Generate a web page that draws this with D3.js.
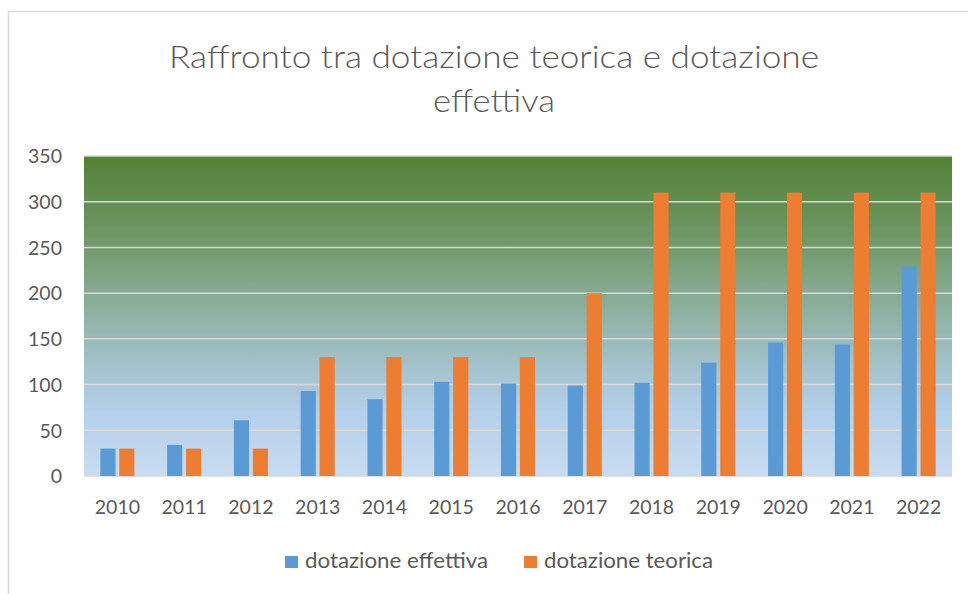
<!DOCTYPE html>
<html><head><meta charset="utf-8">
<script src="https://cdn.jsdelivr.net/npm/d3@7"></script>
<style>body{margin:0;background:#fff;} svg{display:block;}</style>
</head><body>
<svg id="c" width="968" height="594"></svg>
<script>
const years = ["2010","2011","2012","2013","2014","2015","2016","2017","2018","2019","2020","2021","2022"];
const effettiva = [30,34,61,93,84,103,101,99,102,124,146,144,229];
const teorica = [30,30,30,130,130,130,130,200,310,310,310,310,310];
const seriesNames = ["dotazione effettiva","dotazione teorica"];
const seriesColors = ["#5b9bd5","#ed7d31"];
const yTicks = [0,50,100,150,200,250,300,350];
const titleLines = ["Raffronto tra dotazione teorica e dotazione","effettiva"];

const svg = d3.select("#c");
const font = "Lato, 'Open Sans', sans-serif";
const textColor = "#595959";

// outer chart border
svg.append("rect").attr("x",8.5).attr("y",11.5).attr("width",1000).attr("height",700)
  .attr("fill","#fff").attr("stroke","#d9d9d9").attr("stroke-width",1.5);

const m = {left:84, right:952, top:156, bottom:476};
const x0 = d3.scaleBand().domain(years).range([m.left,m.right]).paddingInner(0.49).paddingOuter(0.245);
const x1 = d3.scaleBand().domain(seriesNames).range([0,x0.bandwidth()]).paddingInner(0.2);
const y = d3.scaleLinear().domain([0,350]).range([m.bottom,m.top]);

const defs = svg.append("defs");
const g = defs.append("linearGradient").attr("id","bg").attr("x1",0).attr("y1",0).attr("x2",0).attr("y2",1);
[[0,"#538135"],[0.28,"#729a6c"],[0.5,"#90b2a4"],[0.68,"#a6c5d2"],[0.8,"#b4d0ea"],[1,"#c8dcf0"]]
  .forEach(([o,c])=>g.append("stop").attr("offset",o).attr("stop-color",c));
svg.append("rect").attr("x",m.left).attr("y",m.top).attr("width",m.right-m.left).attr("height",m.bottom-m.top)
  .attr("fill","url(#bg)");

// gridlines
svg.append("g").selectAll("line").data(yTicks).join("line")
  .attr("x1",m.left).attr("x2",m.right).attr("y1",d=>y(d)).attr("y2",d=>y(d))
  .attr("stroke","#d9d9d9").attr("stroke-width",1.5);

// y axis labels
const ya = svg.append("g").attr("transform",`translate(${m.left-22},0)`)
  .call(d3.axisLeft(y).tickValues(yTicks).tickSize(0).tickPadding(0));
ya.select(".domain").remove();
ya.selectAll("text").attr("font-family",font).attr("font-size",19.5).attr("fill",textColor).attr("dy","0.35em");

// x axis labels
const xa = svg.append("g").attr("transform",`translate(0,${m.bottom})`)
  .call(d3.axisBottom(x0).tickSize(0).tickPadding(24).tickSizeOuter(0));
xa.select(".domain").remove();
xa.selectAll("text").attr("font-family",font).attr("font-size",19.5).attr("fill",textColor);

// bars
const data = years.map((yr,i)=>({year:yr, vals:[effettiva[i],teorica[i]]}));
const grp = svg.append("g").selectAll("g").data(data).join("g")
  .attr("transform",d=>`translate(${x0(d.year)},0)`);
grp.selectAll("rect").data(d=>d.vals.map((v,j)=>({v,j}))).join("rect")
  .attr("x",d=>x1(seriesNames[d.j])).attr("width",x1.bandwidth())
  .attr("y",d=>y(d.v)).attr("height",d=>y(0)-y(d.v))
  .attr("fill",d=>seriesColors[d.j]);

// title
const titleLen = [650,122];
svg.append("g").selectAll("text").data(titleLines).join("text")
  .attr("x",494).attr("y",(d,i)=>68+i*44).attr("text-anchor","middle")
  .attr("font-family",font).attr("font-size",32).attr("font-weight",300).attr("fill",textColor)
  .attr("textLength",(d,i)=>titleLen[i]).attr("lengthAdjust","spacingAndGlyphs").text(d=>d);

// legend
const lg = svg.append("g");
const legendX = [285, 524];
const legendLen = [183, 169];
seriesNames.forEach((n,i)=>{
  lg.append("rect").attr("x",legendX[i]).attr("y",556).attr("width",13).attr("height",12).attr("fill",seriesColors[i]);
  lg.append("text").attr("x",legendX[i]+20).attr("y",568).attr("font-family",font).attr("font-size",21)
    .attr("textLength",legendLen[i]).attr("lengthAdjust","spacingAndGlyphs")
    .attr("fill",textColor).text(n);
});
</script>
</body></html>
